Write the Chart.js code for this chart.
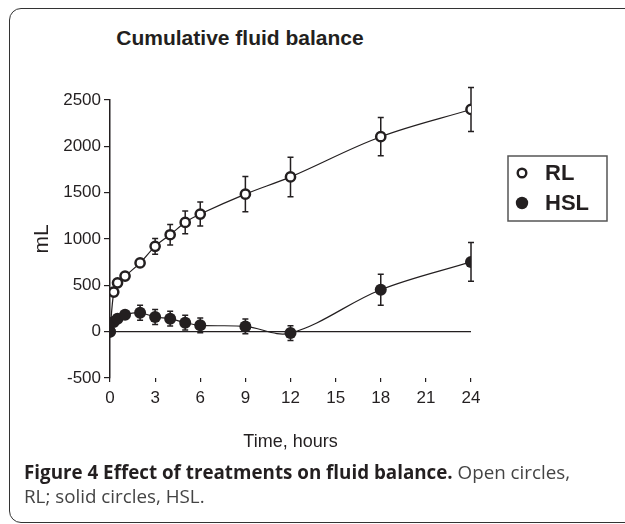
<!DOCTYPE html>
<html>
<head>
<meta charset="utf-8">
<script src="https://cdn.jsdelivr.net/npm/chart.js@4.4.0/dist/chart.umd.min.js"></script>
<style>
  html, body { margin: 0; padding: 0; background: #fff; overflow: hidden; }
  #wrap { position: relative; width: 625px; height: 524px; }
  #frame {
    position: absolute; left: 9px; top: 8px; width: 640px; height: 515px;
    border: 1.5px solid #333; border-radius: 12px; box-sizing: border-box;
  }
  #title {
    position: absolute; left: 0; width: 480px; top: 26px; text-align: center;
    font: bold 21px "Liberation Sans", Arial, sans-serif; color: #231f20;
  }
  #caption {
    position: absolute; left: 24px; top: 460px; width: 600px;
    font: 18.8px/24px "Open Sans", sans-serif; color: #444; white-space: nowrap;
  }
  #caption b { color: #231f20; }
  canvas { position: absolute; left: 0; top: 0; }
</style>
</head>
<body>
<div id="wrap">
  <div id="frame"></div>
  <div id="title">Cumulative fluid balance</div>
  <canvas id="myChart" width="625" height="524"></canvas>
  <div id="caption"><b>Figure 4 Effect of treatments on fluid balance.</b> Open circles,<br>RL; solid circles, HSL.</div>
</div>
<script>
Chart.defaults.font.family = '"Liberation Sans", Arial, sans-serif';
Chart.defaults.color = '#231f20';

// time points (hours)
const rlTimes  = [0, 0.25, 0.5, 1, 2, 3, 4, 5, 6, 9, 12, 18, 24];
const hslTimes = [0, 0.25, 0.5, 1, 2, 3, 4, 5, 6, 9, 12, 18, 24];
// cumulative fluid balance, mL
const rlValues  = [0, 427, 527, 600, 742, 921, 1046, 1179, 1269, 1484, 1670, 2104, 2398];
const hslValues = [0, 104, 140, 183, 204, 158, 140, 97, 68, 57, -15, 452, 753];
// error bars (+/-)
const rlErrors  = [0, 20, 20, 25, 35, 85, 110, 122, 130, 190, 213, 206, 237];
const hslErrors = [0, 30, 30, 40, 80, 80, 80, 80, 80, 80, 80, 167, 210];
const xTicks = [0, 3, 6, 9, 12, 15, 18, 21, 24];
const yTicks = [-500, 0, 500, 1000, 1500, 2000, 2500];

const ink = '#231f20';

function pts(xs, ys){
    return xs.map((x, i) => ({x: x, y: ys[i]}));
}

// error bars drawn under the markers
const errorBars = {
    id: 'errorBars',
    beforeDatasetsDraw(chart){
        const c = chart.ctx, xs = chart.scales.x, ys = chart.scales.y;
        c.save();
        c.strokeStyle = ink;
        c.lineWidth = 1.5;
        chart.data.datasets.forEach(ds => {
            if (!ds.errors) return;
            ds.data.forEach((p, i) => {
                const e = ds.errors[i];
                if (!e) return;
                const px = xs.getPixelForValue(p.x);
                const y1 = ys.getPixelForValue(p.y + e);
                const y2 = ys.getPixelForValue(p.y - e);
                c.beginPath();
                c.moveTo(px, y1); c.lineTo(px, y2);
                c.moveTo(px - 3, y1); c.lineTo(px + 3, y1);
                c.moveTo(px - 3, y2); c.lineTo(px + 3, y2);
                c.stroke();
            });
        });
        c.restore();
    }
};

// boxed legend at the right
const boxLegend = {
    id: 'boxLegend',
    afterDraw(chart){
        const c = chart.ctx;
        c.save();
        c.strokeStyle = '#555';
        c.lineWidth = 1.5;
        c.strokeRect(508, 156, 99, 65);
        c.font = 'bold 22px "Liberation Sans", Arial, sans-serif';
        c.textBaseline = 'middle';
        const items = chart.data.datasets.filter(d => d.legend);
        items.sort((a, b) => a.legend - b.legend);
        items.forEach((ds, i) => {
            const y = 173 + i * 30;
            c.beginPath();
            c.arc(522, y, ds.legend === 1 ? 4.3 : 6.2, 0, Math.PI * 2);
            c.fillStyle = ds.pointBackgroundColor;
            c.fill();
            if (ds.legend === 1){
                c.lineWidth = 2.4; c.strokeStyle = ink; c.stroke();
            }
            c.fillStyle = ink;
            c.fillText(ds.label, 545, y + 1);
        });
        c.restore();
    }
};

const ctx = document.getElementById('myChart').getContext('2d');

const myChart = new Chart(ctx, {
    type: 'line',
    data: {
        datasets: [
            {
                label: 'HSL',
                legend: 2,
                data: pts(hslTimes, hslValues),
                errors: hslErrors,
                borderColor: ink,
                borderWidth: 1.2,
                pointRadius: 6,
                pointBackgroundColor: ink,
                pointBorderColor: ink,
                pointBorderWidth: 0,
                tension: 0.35,
                order: 0
            },
            {
                label: 'RL',
                legend: 1,
                data: pts(rlTimes, rlValues),
                errors: rlErrors,
                borderColor: ink,
                borderWidth: 1.2,
                pointRadius: 4.6,
                pointBackgroundColor: '#fff',
                pointBorderColor: ink,
                pointBorderWidth: 2.5,
                tension: 0.35,
                order: 1
            },
            {
                label: 'zero',
                data: [{x: 0, y: 0}, {x: 24, y: 0}],
                borderColor: ink,
                borderWidth: 1.2,
                pointRadius: 0,
                order: 2
            }
        ]
    },
    options: {
        responsive: false,
        animation: false,
        events: [],
        layout: { padding: { left: 0, top: 100, right: 154, bottom: 67 } },
        plugins: {
            legend: { display: false },
            tooltip: { enabled: false }
        },
        scales: {
            x: {
                type: 'linear',
                min: 0, max: 24,
                afterBuildTicks: s => { s.ticks = xTicks.map(v => ({value: v})); },
                afterFit: s => { s.height = 79; },
                grid: { display: true, drawOnChartArea: false, tickLength: 4, color: ink, lineWidth: 1.2 },
                border: { display: false },
                ticks: { font: { size: 17 }, padding: 6, color: ink, maxRotation: 0, callback: v => String(v) },
                title: { display: true, text: 'Time, hours', font: { size: 18 }, color: ink, padding: { top: 4, bottom: 4 } }
            },
            y: {
                min: -500, max: 2500,
                afterBuildTicks: s => { s.ticks = yTicks.map(v => ({value: v})); },
                afterFit: s => { s.width = 110; },
                grid: { display: true, drawOnChartArea: false, tickLength: 6, color: ink, lineWidth: 1.2 },
                border: { display: true, color: ink, width: 1.5 },
                ticks: { font: { size: 17 }, padding: 3, color: ink, callback: v => String(v) },
                title: { display: true, text: 'mL', font: { size: 21 }, color: ink, padding: { top: 30, bottom: 0 } }
            }
        }
    },
    plugins: [errorBars, boxLegend]
});
</script>
</body>
</html>
